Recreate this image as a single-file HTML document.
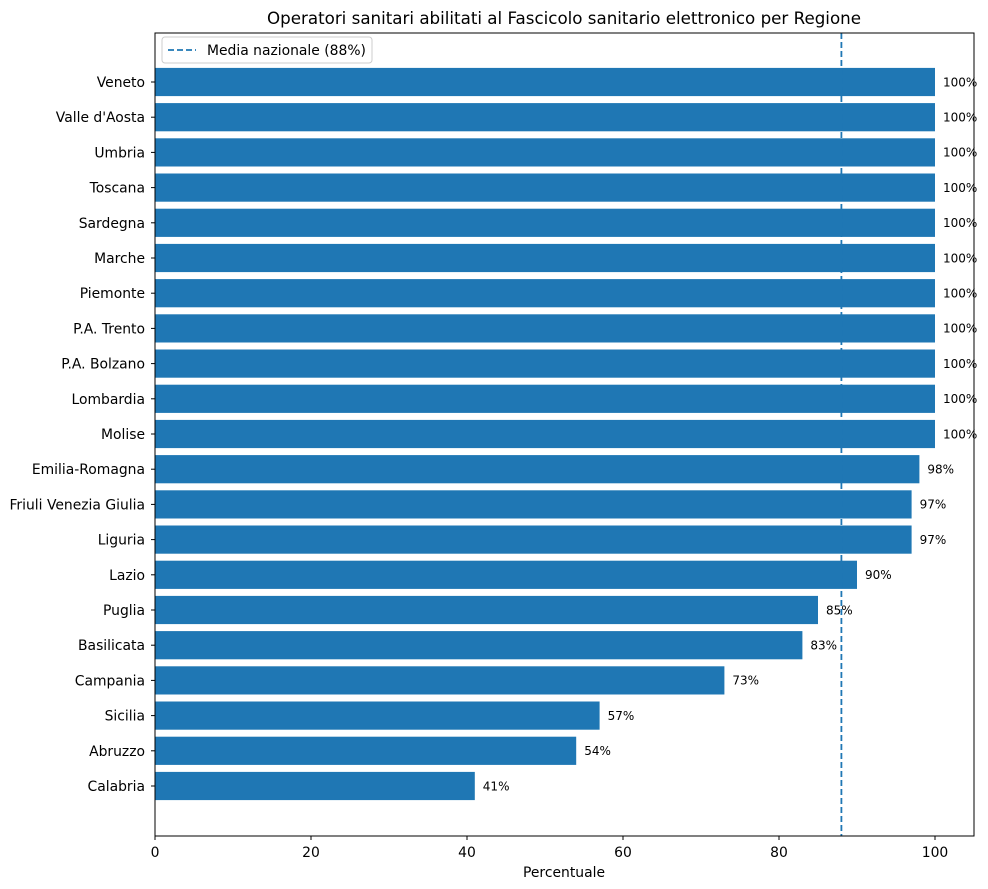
<!DOCTYPE html>
<html><head><meta charset="utf-8"><style>body{margin:0;background:#fff}svg{display:block;font-family:"DejaVu Sans","Liberation Sans",sans-serif}</style></head><body>
<svg width="988" height="889" viewBox="0 0 988 889" xmlns="http://www.w3.org/2000/svg">
<rect width="988" height="889" fill="#fff"/>
<text x="564" y="24" font-size="16.7" text-anchor="middle" fill="#000">Operatori sanitari abilitati al Fascicolo sanitario elettronico per Regione</text>
<g fill="#1f77b4">
<rect x="155" y="67.9" width="780" height="28.2"/>
<rect x="155" y="103.1" width="780" height="28.2"/>
<rect x="155" y="138.3" width="780" height="28.2"/>
<rect x="155" y="173.5" width="780" height="28.2"/>
<rect x="155" y="208.7" width="780" height="28.2"/>
<rect x="155" y="243.9" width="780" height="28.2"/>
<rect x="155" y="279.1" width="780" height="28.2"/>
<rect x="155" y="314.3" width="780" height="28.2"/>
<rect x="155" y="349.5" width="780" height="28.2"/>
<rect x="155" y="384.7" width="780" height="28.2"/>
<rect x="155" y="419.9" width="780" height="28.2"/>
<rect x="155" y="455.1" width="764.4" height="28.2"/>
<rect x="155" y="490.3" width="756.6" height="28.2"/>
<rect x="155" y="525.5" width="756.6" height="28.2"/>
<rect x="155" y="560.7" width="702" height="28.2"/>
<rect x="155" y="595.9" width="663" height="28.2"/>
<rect x="155" y="631.1" width="647.4" height="28.2"/>
<rect x="155" y="666.3" width="569.4" height="28.2"/>
<rect x="155" y="701.5" width="444.6" height="28.2"/>
<rect x="155" y="736.7" width="421.2" height="28.2"/>
<rect x="155" y="771.9" width="319.8" height="28.2"/>
</g>
<g font-size="13.9" text-anchor="end" fill="#000">
<text x="145" y="87">Veneto</text>
<text x="145" y="122.2">Valle d'Aosta</text>
<text x="145" y="157.4">Umbria</text>
<text x="145" y="192.6">Toscana</text>
<text x="145" y="227.8">Sardegna</text>
<text x="145" y="263">Marche</text>
<text x="145" y="298.2">Piemonte</text>
<text x="145" y="333.4">P.A. Trento</text>
<text x="145" y="368.6">P.A. Bolzano</text>
<text x="145" y="403.8">Lombardia</text>
<text x="145" y="439">Molise</text>
<text x="145" y="474.2">Emilia-Romagna</text>
<text x="145" y="509.4">Friuli Venezia Giulia</text>
<text x="145" y="544.6">Liguria</text>
<text x="145" y="579.8">Lazio</text>
<text x="145" y="615">Puglia</text>
<text x="145" y="650.2">Basilicata</text>
<text x="145" y="685.4">Campania</text>
<text x="145" y="720.6">Sicilia</text>
<text x="145" y="755.8">Abruzzo</text>
<text x="145" y="791">Calabria</text>
</g>
<g stroke="#000">
<line x1="151" y1="82" x2="155" y2="82"/><line x1="151" y1="117.2" x2="155" y2="117.2"/><line x1="151" y1="152.4" x2="155" y2="152.4"/><line x1="151" y1="187.6" x2="155" y2="187.6"/><line x1="151" y1="222.8" x2="155" y2="222.8"/><line x1="151" y1="258" x2="155" y2="258"/><line x1="151" y1="293.2" x2="155" y2="293.2"/><line x1="151" y1="328.4" x2="155" y2="328.4"/><line x1="151" y1="363.6" x2="155" y2="363.6"/><line x1="151" y1="398.8" x2="155" y2="398.8"/><line x1="151" y1="434" x2="155" y2="434"/><line x1="151" y1="469.2" x2="155" y2="469.2"/><line x1="151" y1="504.4" x2="155" y2="504.4"/><line x1="151" y1="539.6" x2="155" y2="539.6"/><line x1="151" y1="574.8" x2="155" y2="574.8"/><line x1="151" y1="610" x2="155" y2="610"/><line x1="151" y1="645.2" x2="155" y2="645.2"/><line x1="151" y1="680.4" x2="155" y2="680.4"/><line x1="151" y1="715.6" x2="155" y2="715.6"/><line x1="151" y1="750.8" x2="155" y2="750.8"/><line x1="151" y1="786" x2="155" y2="786"/>
</g>
<g font-size="12" fill="#000">
<text x="943" y="86.3">100%</text>
<text x="943" y="121.5">100%</text>
<text x="943" y="156.7">100%</text>
<text x="943" y="191.9">100%</text>
<text x="943" y="227.1">100%</text>
<text x="943" y="262.3">100%</text>
<text x="943" y="297.5">100%</text>
<text x="943" y="332.7">100%</text>
<text x="943" y="367.9">100%</text>
<text x="943" y="403.1">100%</text>
<text x="943" y="438.3">100%</text>
<text x="927.4" y="473.5">98%</text>
<text x="919.6" y="508.7">97%</text>
<text x="919.6" y="543.9">97%</text>
<text x="865" y="579.1">90%</text>
<text x="826" y="614.3">85%</text>
<text x="810.4" y="649.5">83%</text>
<text x="732.4" y="684.7">73%</text>
<text x="607.6" y="719.9">57%</text>
<text x="584.2" y="755.1">54%</text>
<text x="482.8" y="790.3">41%</text>
</g>
<line x1="841.4" y1="33" x2="841.4" y2="836" stroke="#1f77b4" stroke-width="1.8" stroke-dasharray="6,3"/>
<rect x="155" y="33" width="819" height="803" fill="none" stroke="#000" stroke-width="1"/>
<g font-size="13.9" fill="#000" text-anchor="middle">
<line x1="155" y1="836" x2="155" y2="840" stroke="#000"/><text x="155" y="857">0</text>
<line x1="311" y1="836" x2="311" y2="840" stroke="#000"/><text x="311" y="857">20</text>
<line x1="467" y1="836" x2="467" y2="840" stroke="#000"/><text x="467" y="857">40</text>
<line x1="623" y1="836" x2="623" y2="840" stroke="#000"/><text x="623" y="857">60</text>
<line x1="779" y1="836" x2="779" y2="840" stroke="#000"/><text x="779" y="857">80</text>
<line x1="935" y1="836" x2="935" y2="840" stroke="#000"/><text x="935" y="857">100</text>
<text x="564" y="877">Percentuale</text>
</g>
<rect x="162" y="37" width="210" height="26" rx="3" fill="#fff" stroke="#ccc"/>
<line x1="168" y1="50" x2="196" y2="50" stroke="#1f77b4" stroke-width="1.8" stroke-dasharray="6,3"/>
<text x="207" y="55" font-size="13.9" fill="#000">Media nazionale (88%)</text>
</svg>
</body></html>
